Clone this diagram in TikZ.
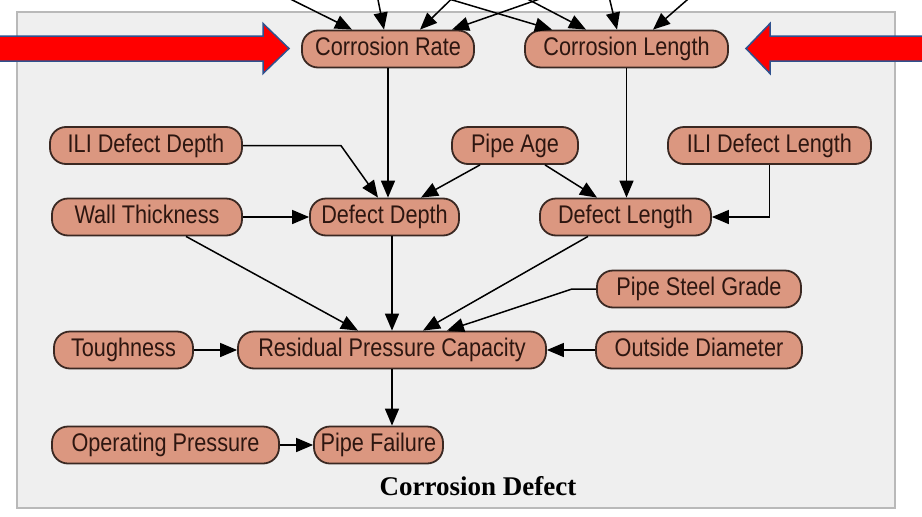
\documentclass[tikz,border=0pt]{standalone}
\usepackage{fontspec}
\newfontfamily\nodefont{Liberation Sans}[FakeStretch=0.85]
\newfontfamily\titlefont{Liberation Serif}
\usetikzlibrary{arrows.meta,calc}

\definecolor{panelfill}{RGB}{239,239,239}
\definecolor{panelline}{RGB}{185,185,185}
\definecolor{varfill}{RGB}{219,151,128}
\definecolor{varline}{RGB}{58,40,34}
\definecolor{vartext}{RGB}{45,22,16}
\definecolor{hintred}{RGB}{255,0,0}
\definecolor{hintblue}{RGB}{47,82,143}

\tikzset{
  var/.style={draw=varline, line width=1.8pt, fill=varfill,
    rounded corners=16pt, minimum height=37pt, inner sep=0pt,
    text height=18pt, text depth=5pt, text=vartext,
    font=\nodefont\fontsize{25.5}{27}\selectfont},
  link/.style={draw=black, line width=1.5pt,
    -{Triangle[length=17pt,width=14pt]}},
  hint/.style={fill=hintred, draw=hintblue, line width=1.5pt, line join=miter},
}

\begin{document}
\begin{tikzpicture}[x=1pt,y=-1pt]
\useasboundingbox (0,0) rectangle (922,517);
\clip (0,0) rectangle (922,517);

% panel of the network
\draw[panelline, fill=panelfill, line width=1.3pt] (17,12) rectangle (895,508);

% variables
\node[var, minimum width=172pt] (CR)    at (388,49)    {Corrosion Rate};
\node[var, minimum width=203pt] (CL)    at (626.5,49)  {Corrosion Length};
\node[var, minimum width=192pt] (ILIDD) at (146,145.5) {ILI Defect Depth};
\node[var, minimum width=126pt] (PA)    at (515,145.5) {Pipe Age};
\node[var, minimum width=203pt] (ILIDL) at (769.5,145.5) {ILI Defect Length};
\node[var, minimum width=190pt] (WT)    at (147,217)   {Wall Thickness};
\node[var, minimum width=149pt] (DD)    at (384.5,217) {Defect Depth};
\node[var, minimum width=171pt] (DL)    at (625.5,217) {Defect Length};
\node[var, minimum width=204pt] (PSG)   at (699,289)   {Pipe Steel Grade};
\node[var, minimum width=139pt] (TO)    at (123.5,350) {Toughness};
\node[var, minimum width=308pt] (RPC)   at (392,350)   {Residual Pressure Capacity};
\node[var, minimum width=206pt] (OD)    at (699,350)   {Outside Diameter};
\node[var, minimum width=227pt] (OP)    at (165.5,445) {Operating Pressure};
\node[var, minimum width=129pt] (PF)    at (378.5,445) {Pipe Failure};

% parents above the panel
\coordinate (s1) at (252,-20);
\coordinate (s2) at (374,-20);
\coordinate (s3) at (471,-20);
\coordinate (s4) at (594,-20);
\coordinate (s5) at (385,-20);
\coordinate (s6) at (491,-20);
\coordinate (s7) at (605,-20);
\coordinate (s8) at (710,-20);
\draw[link] (s1) -- ($(CR.north)+(-36,0)$);
\draw[link] (s2) -- ($(CR.north)+(-4,0)$);
\draw[link] (s3) -- ($(CR.north)+(32,0)$);
\draw[link] (s4) -- ($(CR.north)+(64,0)$);
\draw[link] (s5) -- ($(CL.north)+(-74.5,0)$);
\draw[link] (s6) -- ($(CL.north)+(-40.5,0)$);
\draw[link] (s7) -- ($(CL.north)+(-9.5,0)$);
\draw[link] (s8) -- ($(CL.north)+(26.5,0)$);

% dependencies inside the panel
\draw[link] (CR.south) -- (CR.south |- DD.north);
\draw[link] (CL.south) -- (CL.south |- DL.north);
\draw[link] (ILIDD.east) -- ++(98,0) -- ($(DD.north)+(-6.5,0)$);
\draw[link] ($(PA.south)+(-35,0)$) -- ($(DD.north)+(36.5,0)$);
\draw[link] ($(PA.south)+(30,0)$) -- ($(DL.north)+(-28.5,0)$);
\draw[link] (ILIDL.south) |- (DL.east);
\draw[link] (WT.east) -- (DD.west);
\draw[link] ($(WT.south)+(39,0)$) -- ($(RPC.north)+(-34,0)$);
\draw[link] (DD.south -| RPC.north) -- (RPC.north);
\draw[link] ($(DL.south)+(-37.5,0)$) -- ($(RPC.north)+(31,0)$);
\draw[link] (PSG.west) -- ++(-24,0) -- ($(RPC.north)+(55,0)$);
\draw[link] (OD.west) -- (RPC.east);
\draw[link] (TO.east) -- (RPC.west);
\draw[link] (RPC.south) -- (RPC.south |- PF.north);
\draw[link] (OP.east) -- (PF.west);

% caption of the panel
\node[anchor=base, font=\titlefont\bfseries\fontsize{27}{30}\selectfont, text=black]
  (cap) at (478,495) {Corrosion Defect};

% highlighting arrows
\draw[hint] (-5,36) -- (263,36) -- (263,23.5) -- (289,48.5) -- (263,73.5)
  -- (263,61) -- (-5,61) -- cycle;
\draw[hint] (927,36) -- (770,36) -- (770,23.5) -- (746,48.5) -- (770,73.5)
  -- (770,61) -- (927,61) -- cycle;
\end{tikzpicture}
\end{document}
